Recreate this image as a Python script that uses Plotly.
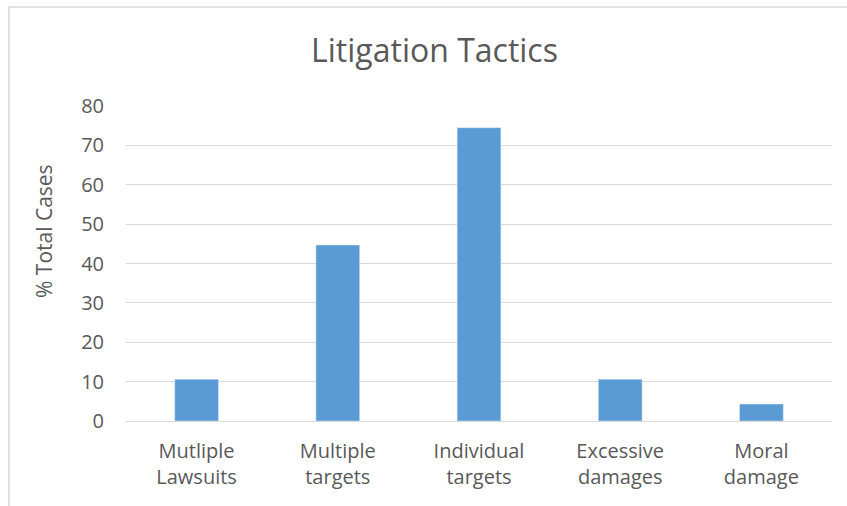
import plotly.graph_objects as go

categories = ["Mutliple<br>Lawsuits", "Multiple<br>targets", "Individual<br>targets", "Excessive<br>damages", "Moral<br>damage"]
values = [10.6, 44.7, 74.5, 10.6, 4.3]
y_ticks = [0, 10, 20, 30, 40, 50, 60, 70, 80]
y_title = "% Total Cases"
chart_title = "Litigation Tactics"

W, H = 847, 506
L, R, T, B = 126, 15, 106, 85
pw, ph = W - L - R, H - T - B

def px_x(p):
    return (p - L) / pw

def px_y(p):
    return (H - B - p) / ph

fig = go.Figure(go.Bar(x=categories, y=values, marker_color="#5B9BD5", width=0.31))

FONT = "'Open Sans', Lato, sans-serif"
TXT = "#595959"
fig.update_layout(
    width=W, height=H,
    margin=dict(l=L, r=R, t=T, b=B),
    paper_bgcolor="white", plot_bgcolor="white",
    font=dict(family=FONT, color=TXT, size=20),
    title=dict(text=chart_title, x=434.5 / W, xanchor="center", y=1 - 51 / H, yanchor="middle",
               font=dict(size=32, color=TXT, family=FONT)),
    showlegend=False,
    bargap=0.69,
    xaxis=dict(showgrid=False, showline=False, ticks="", ticklabelstandoff=16,
               tickfont=dict(size=20, color=TXT)),
    yaxis=dict(range=[0, 80], tickvals=y_ticks, showgrid=True, gridcolor="#D9D9D9", gridwidth=1,
               zeroline=True, zerolinecolor="#D9D9D9", zerolinewidth=1, showline=False, ticks="",
               ticklabelstandoff=21, tickfont=dict(size=20, color=TXT)),
    annotations=[dict(text=y_title, xref="paper", yref="paper", x=px_x(44), y=px_y(231),
                      xanchor="center", yanchor="middle", textangle=-90, showarrow=False,
                      font=dict(size=21, color=TXT, family=FONT))],
    shapes=[dict(type="rect", xref="paper", yref="paper",
                 x0=px_x(9), x1=px_x(W + 20), y0=px_y(H + 20), y1=px_y(7),
                 line=dict(color="#D9D9D9", width=1.5), fillcolor="rgba(0,0,0,0)", layer="below")],
)

fig.write_html("out.html", config={"displayModeBar": False},
               post_script="document.body.style.margin='0';document.body.style.overflow='hidden';")
